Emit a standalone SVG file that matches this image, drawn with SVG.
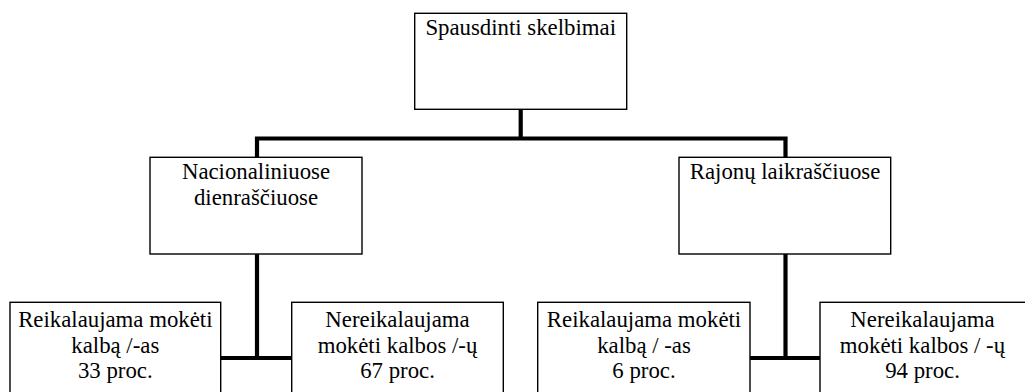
<svg xmlns="http://www.w3.org/2000/svg" width="1025" height="392" viewBox="0 0 1025 392">
<style>
.box{fill:#fff;stroke:#000;stroke-width:1.4}
.t{font-family:'Liberation Serif','DejaVu Serif',serif;font-size:22.8px;fill:#000;text-anchor:middle}
.c{fill:none;stroke:#000;stroke-width:4.2;stroke-linecap:butt;stroke-linejoin:miter}
</style>
<rect width="1025" height="392" fill="#fff"/>
<g id="connectors">
<path class="c" d="M520.7,109.5 V138.5"/>
<path class="c" d="M257,254 V138.5 H785.5 V254"/>
<path class="c" d="M257,254 V358"/>
<path class="c" d="M785.5,254 V358"/>
<path class="c" d="M220.7,358 H292"/>
<path class="c" d="M750,358 H820"/>
</g>
<g id="node-root">
<rect class="box" x="414.7" y="13.3" width="212" height="96"/>
<text class="t" x="520.7" y="35">Spausdinti skelbimai</text>
</g>
<g id="node-nacionaliniuose">
<rect class="box" x="150" y="157.3" width="212" height="96.7"/>
<text class="t" x="256" y="179.3">Nacionaliniuose</text>
<text class="t" x="256" y="205">dienraščiuose</text>
</g>
<g id="node-rajonu">
<rect class="box" x="679" y="157.3" width="211.7" height="96.7"/>
<text class="t" x="785" y="179.3">Rajonų laikraščiuose</text>
</g>
<g id="node-nac-reikalaujama">
<rect class="box" x="10" y="302.3" width="210.7" height="100"/>
<text class="t" x="115.3" y="326.7">Reikalaujama mokėti</text>
<text class="t" x="115.3" y="352.5">kalbą /-as</text>
<text class="t" x="115.3" y="378.3">33 proc.</text>
</g>
<g id="node-nac-nereikalaujama">
<rect class="box" x="291.7" y="302.3" width="211.6" height="100"/>
<text class="t" x="397.5" y="326.7">Nereikalaujama</text>
<text class="t" x="397.5" y="352.5">mokėti kalbos /-ų</text>
<text class="t" x="397.5" y="378.3">67 proc.</text>
</g>
<g id="node-raj-reikalaujama">
<rect class="box" x="537.7" y="302.3" width="212.3" height="100"/>
<text class="t" x="644" y="326.7">Reikalaujama mokėti</text>
<text class="t" x="644" y="352.5">kalbą / -as</text>
<text class="t" x="644" y="378.3">6 proc.</text>
</g>
<g id="node-raj-nereikalaujama">
<rect class="box" x="820" y="302.3" width="212" height="100"/>
<text class="t" x="922.5" y="326.7">Nereikalaujama</text>
<text class="t" x="922.5" y="352.5">mokėti kalbos / -ų</text>
<text class="t" x="922.5" y="378.3">94 proc.</text>
</g>
</svg>
